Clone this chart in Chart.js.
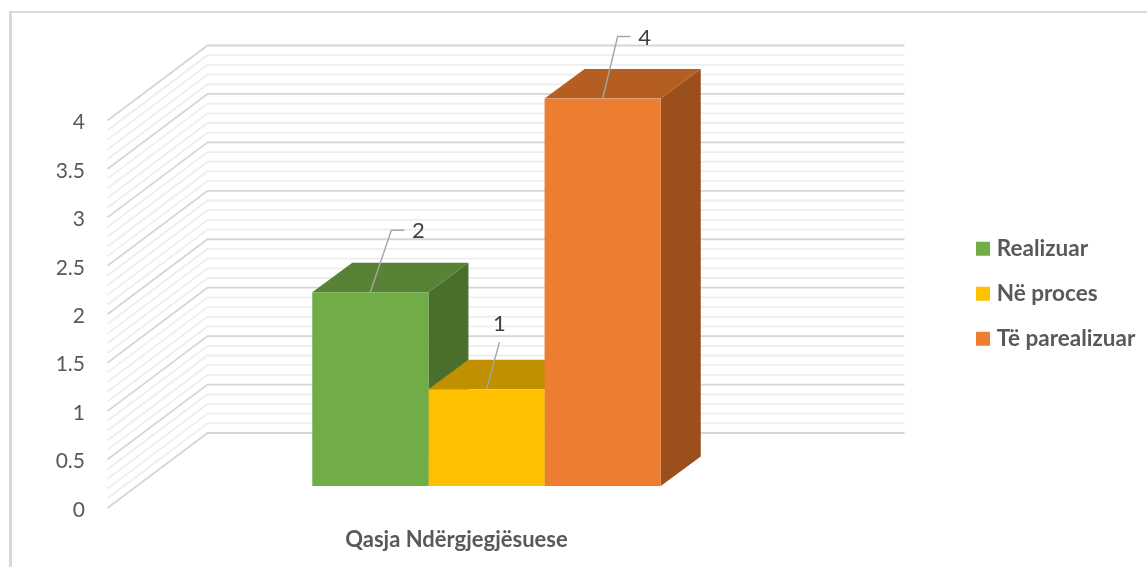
<!DOCTYPE html>
<html>
<head>
<meta charset="utf-8">
<script src="https://cdn.jsdelivr.net/npm/chart.js@4/dist/chart.umd.min.js"></script>
<style>
html,body{margin:0;padding:0;background:#fff;overflow:hidden}
#frame{position:absolute;left:9px;top:11px;width:1138px;height:556px;box-sizing:border-box;border-left:3px solid #D9D9D9;border-top:2px solid #D9D9D9}
#wrap{position:absolute;left:0;top:0;width:1147px;height:567px}
</style>
</head>
<body>
<div id="frame"></div>
<div id="wrap"><canvas id="c" width="1147" height="567"></canvas></div>
<script>
const categories = ['Qasja Ndërgjegjësuese'];
const seriesNames = ['Realizuar', 'Në proces', 'Të parealizuar'];
const realizuar = [2];
const neProces = [1];
const teParealizuar = [4];
const frontColors = ['#70AD47', '#FFC000', '#ED7D31'];
const topColors = ['#588235', '#C09000', '#B45E22'];
const sideColors = ['#4A6F2C', '#A87F00', '#9A4F1C'];
const yTickStep = 0.5;
const yMinorStep = 0.1;
const yMax = 4;

const FONT = 'Lato, Carlito, "Open Sans", sans-serif';
const BAR_DEPTH = {dx: 40, dy: -29.5};
const WALL = {dx: 69.5, dy: -53};
const FRONT = {dx: -30.5, dy: 22};
const LEADERS = [
  {elbow: [21, -62], end: [34, -62], text: [48, -61]},
  {elbow: null, end: [13, -47], text: [13, -65]},
  {elbow: [15, -62], end: [28, -62], text: [42, -61]}
];

const depthPlugin = {
  id: 'depth',
  afterLayout(chart) {
    const lg = chart.legend;
    const w = lg.width, h = lg.height;
    lg.left = 958;
    lg.right = lg.left + w;
    lg.top = 215;
    lg.bottom = lg.top + h;
  },
  beforeDatasetsDraw(chart) {
    const {ctx, scales: {y}, chartArea: ca} = chart;
    const n = Math.round(yMax / yMinorStep);
    ctx.save();
    ctx.lineJoin = 'miter';
    for (const major of [false, true]) {
      for (let i = 0; i <= n; i++) {
        const isMajor = i % Math.round(yTickStep / yMinorStep) === 0;
        if (isMajor !== major) continue;
        const py = y.getPixelForValue(i * yMinorStep);
        ctx.strokeStyle = major ? '#D6D6D6' : '#EEEEEE';
        ctx.lineWidth = 1.8;
        ctx.beginPath();
        ctx.moveTo(ca.left + FRONT.dx, py + FRONT.dy);
        ctx.lineTo(ca.left + WALL.dx, py + WALL.dy);
        ctx.lineTo(ca.right + WALL.dx, py + WALL.dy);
        ctx.stroke();
      }
    }
    const base = y.getPixelForValue(0);
    chart.data.datasets.forEach((ds, i) => {
      const b = chart.getDatasetMeta(i).data[0];
      const l = b.x - b.width / 2, r = b.x + b.width / 2, t = b.y;
      ctx.fillStyle = sideColors[i];
      ctx.beginPath();
      ctx.moveTo(r, t);
      ctx.lineTo(r + BAR_DEPTH.dx, t + BAR_DEPTH.dy);
      ctx.lineTo(r + BAR_DEPTH.dx, base + BAR_DEPTH.dy);
      ctx.lineTo(r, base);
      ctx.closePath();
      ctx.fill();
      ctx.fillStyle = topColors[i];
      ctx.beginPath();
      ctx.moveTo(l, t);
      ctx.lineTo(l + BAR_DEPTH.dx, t + BAR_DEPTH.dy);
      ctx.lineTo(r + BAR_DEPTH.dx, t + BAR_DEPTH.dy);
      ctx.lineTo(r, t);
      ctx.closePath();
      ctx.fill();
    });
    ctx.restore();
  },
  afterDatasetsDraw(chart) {
    const {ctx} = chart;
    ctx.save();
    chart.data.datasets.forEach((ds, i) => {
      const b = chart.getDatasetMeta(i).data[0];
      const L = LEADERS[i];
      ctx.strokeStyle = '#A6A6A6';
      ctx.lineWidth = 1.4;
      ctx.beginPath();
      ctx.moveTo(b.x, b.y);
      if (L.elbow) ctx.lineTo(b.x + L.elbow[0], b.y + L.elbow[1]);
      ctx.lineTo(b.x + L.end[0], b.y + L.end[1]);
      ctx.stroke();
      ctx.fillStyle = '#404040';
      ctx.font = '22px ' + FONT;
      ctx.textAlign = 'center';
      ctx.textBaseline = 'middle';
      ctx.fillText(String(ds.data[0]), b.x + L.text[0], b.y + L.text[1]);
    });
    ctx.restore();
  }
};

new Chart(document.getElementById('c'), {
  type: 'bar',
  data: {
    labels: categories,
    datasets: [
      {label: seriesNames[0], data: realizuar, backgroundColor: frontColors[0]},
      {label: seriesNames[1], data: neProces, backgroundColor: frontColors[1]},
      {label: seriesNames[2], data: teParealizuar, backgroundColor: frontColors[2]}
    ]
  },
  plugins: [depthPlugin],
  options: {
    responsive: false,
    animation: false,
    layout: {padding: {left: 0, right: 312, top: 98.5, bottom: 0}},
    datasets: {bar: {categoryPercentage: 0.5, barPercentage: 1, borderWidth: 0}},
    plugins: {
      tooltip: {enabled: false},
      legend: {
        position: 'chartArea',
        align: 'start',
        labels: {
          boxWidth: 5, boxHeight: 5, padding: 22.5,
          color: '#595959',
          font: {family: FONT, size: 22.5, weight: 'bold'},
          generateLabels(chart) {
            return Chart.defaults.plugins.legend.labels.generateLabels(chart)
              .map(item => ({...item, strokeStyle: item.fillStyle, lineWidth: 9, lineJoin: 'miter'}));
          }
        }
      }
    },
    scales: {
      x: {
        grid: {display: false},
        border: {display: false},
        afterFit(s) { s.height = 81; },
        ticks: {
          labelOffset: -30, padding: 33, color: '#595959',
          font: {family: FONT, size: 22, weight: 'bold'}
        }
      },
      y: {
        min: 0, max: yMax,
        grid: {display: false, drawTicks: false},
        border: {display: false},
        afterFit(s) { s.width = 138; },
        ticks: {
          stepSize: yTickStep, padding: 53, labelOffset: 24,
          color: '#595959',
          font: {family: FONT, size: 21},
          callback(v) { return String(v); }
        }
      }
    }
  }
});
</script>
</body>
</html>
